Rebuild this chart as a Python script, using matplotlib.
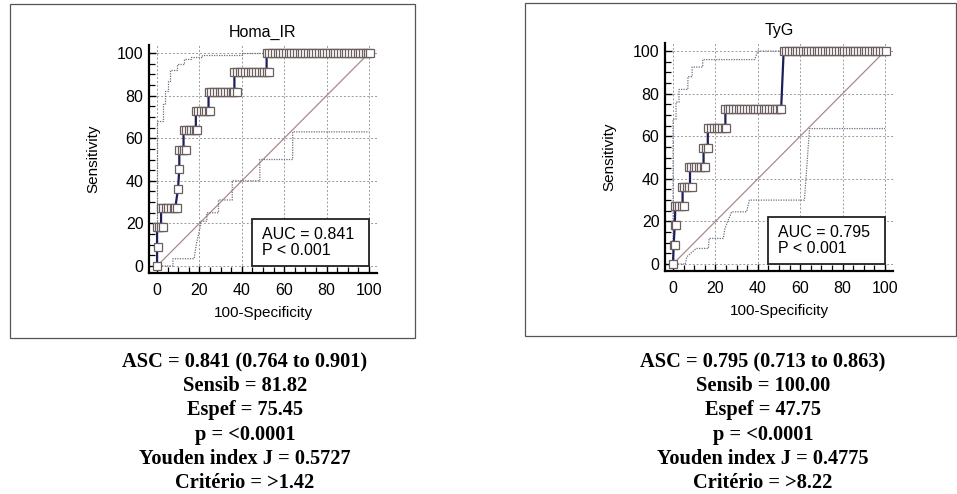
import numpy as np
import matplotlib.pyplot as plt
from matplotlib.patches import Rectangle
from matplotlib.ticker import MultipleLocator

plt.rcParams['font.family'] = ['Liberation Sans', 'DejaVu Sans']

# ---- Homa_IR : ROC points (100-specificity, sensitivity)
homa_fpr = [0, 0.3, 0, 1.0, 1.9, 2.7,
            1.9, 3.0, 4.2, 5.4, 6.6, 7.8, 8.6, 9.4,
            9.9, 10.5,
            10.5, 11.8, 12.5, 13.6,
            12.5, 13.8, 15.0, 16.2, 17.4, 18.3, 19.0,
            18.3, 19.5, 20.8, 22.0, 23.2, 24.3, 25.0,
            24.3, 25.6, 26.9, 28.2, 29.5, 30.8, 32.1, 33.4, 34.7, 36.0, 36.5, 37.6,
            36.5, 37.8, 39.0, 40.3, 41.6, 42.9, 44.2, 45.5, 46.8, 48.1, 49.4, 50.7, 51.7, 53.0,
            51.7, 53.0, 54.3, 55.6, 56.9, 58.2, 59.5, 60.8, 62.1, 63.4, 64.7, 66.0, 67.3,
            68.6, 69.9, 71.2, 72.5, 73.8, 75.1, 76.4, 77.7, 79.0, 80.3, 81.6, 82.9, 84.2,
            85.5, 86.8, 88.1, 89.4, 90.7, 92.0, 93.3, 94.6, 95.9, 97.2, 98.5, 99.4, 100.5]
homa_tpr = [0, 9.09, 18.18, 18.18, 18.18, 18.18,
            27.27, 27.27, 27.27, 27.27, 27.27, 27.27, 27.27, 27.27,
            36.36, 45.45,
            54.55, 54.55, 54.55, 54.55,
            63.64, 63.64, 63.64, 63.64, 63.64, 63.64, 63.64,
            72.73, 72.73, 72.73, 72.73, 72.73, 72.73, 72.73,
            81.82, 81.82, 81.82, 81.82, 81.82, 81.82, 81.82, 81.82, 81.82, 81.82, 81.82, 81.82,
            90.91, 90.91, 90.91, 90.91, 90.91, 90.91, 90.91, 90.91, 90.91, 90.91, 90.91, 90.91, 90.91, 90.91,
            100, 100, 100, 100, 100, 100, 100, 100, 100, 100, 100, 100, 100,
            100, 100, 100, 100, 100, 100, 100, 100, 100, 100, 100, 100, 100,
            100, 100, 100, 100, 100, 100, 100, 100, 100, 100, 100, 100, 100]
# line path through the corners
homa_line_x = [0, 0, 0, 1.9, 1.9, 8.6, 9.9, 10.5, 10.5, 12.5, 12.5, 18.3, 18.3, 24.3, 24.3, 36.5, 36.5, 51.7, 51.7, 100]
homa_line_y = [0, 9.09, 18.18, 18.18, 27.27, 27.27, 36.36, 45.45, 54.55, 54.55, 63.64, 63.64, 72.73, 72.73,
               81.82, 81.82, 90.91, 90.91, 100, 100]
homa_up_x = [0, 0, 3.0, 3.0, 3.8, 3.8, 5.0, 5.0, 6.3, 6.3, 9.5, 9.5, 12.5, 12.5, 16, 16, 21, 21, 40, 40, 100]
homa_up_y = [0, 68, 68, 76, 76, 82, 82, 87, 87, 92, 92, 95, 95, 97, 97, 98, 98, 99, 99, 100, 100]
homa_lo_x = [0, 7.5, 7.5, 17.5, 18.5, 20.5, 20.5, 23.5, 23.5, 29, 29, 35.5, 35.5, 48.5, 48.5, 64, 64, 100]
homa_lo_y = [0, 0, 3.4, 3.4, 10, 19, 21, 21, 25, 25, 31, 31, 40, 40, 50, 50, 63, 63]

# ---- TyG
tyg_fpr = [0, 0.3, 1.0, 0.8, 1.6,
           1.1, 2.0, 3.0, 4.0, 5.0,
           4.0, 5.2, 6.4, 7.6, 9.0,
           7.3, 8.5, 9.7, 10.9, 12.1, 13.3, 14.5, 15.0,
           14.0, 15.5, 16.7,
           16.7, 18.0, 19.3, 20.6, 21.9, 23.2, 24.5, 25.0,
           24.5, 25.8, 27.1, 28.4, 29.7, 31.0, 32.3, 33.6, 34.9, 36.2, 37.5, 38.8, 40.1,
           41.4, 42.7, 44.0, 45.3, 46.6, 47.9, 49.2, 50.5, 51.0,
           52.2, 53.5, 54.8, 56.1, 57.4, 58.7, 60.0, 61.3, 62.6, 63.9, 65.2, 66.5, 67.8,
           69.1, 70.4, 71.7, 73.0, 74.3, 75.6, 76.9, 78.2, 79.5, 80.8, 82.1, 83.4, 84.7,
           86.0, 87.3, 88.6, 89.9, 91.2, 92.5, 93.8, 95.1, 96.4, 97.7, 99.0, 100.3]
tyg_tpr = [0, 9.09, 9.09, 18.18, 18.18,
           27.27, 27.27, 27.27, 27.27, 27.27,
           36.36, 36.36, 36.36, 36.36, 36.36,
           45.45, 45.45, 45.45, 45.45, 45.45, 45.45, 45.45, 45.45,
           54.55, 54.55, 54.55,
           63.64, 63.64, 63.64, 63.64, 63.64, 63.64, 63.64, 63.64,
           72.73, 72.73, 72.73, 72.73, 72.73, 72.73, 72.73, 72.73, 72.73, 72.73, 72.73, 72.73, 72.73,
           72.73, 72.73, 72.73, 72.73, 72.73, 72.73, 72.73, 72.73, 72.73,
           100, 100, 100, 100, 100, 100, 100, 100, 100, 100, 100, 100, 100,
           100, 100, 100, 100, 100, 100, 100, 100, 100, 100, 100, 100, 100,
           100, 100, 100, 100, 100, 100, 100, 100, 100, 100, 100, 100]
tyg_line_x = [0, 0.3, 0.8, 1.1, 4.5, 4.5, 8.0, 8.0, 14.4, 14.4, 16.4, 16.4, 24.7, 24.7, 51.0, 52.2, 100]
tyg_line_y = [0, 9.09, 18.18, 27.27, 27.27, 36.36, 36.36, 45.45, 45.45, 54.55, 54.55, 63.64, 63.64, 72.73,
              72.73, 100, 100]
tyg_up_x = [0, 0, 1.4, 1.4, 2.8, 2.8, 7.0, 7.0, 9.0, 9.0, 14.0, 14.0, 38.5, 40, 100]
tyg_up_y = [0, 68, 68, 76, 76, 82, 82, 88, 88, 92.5, 92.5, 96, 96, 100, 100]
tyg_lo_x = [0, 5.8, 6.5, 11, 11, 16.7, 17, 23.7, 24.5, 26, 27.7, 34.7, 36, 62, 64.4, 100]
tyg_lo_y = [0, 0, 3.4, 7.3, 7.3, 7.3, 12, 12, 16.7, 20.6, 24.5, 24.5, 30, 30, 63.6, 63.6]

titles = ['Homa_IR', 'TyG']
auc_txt = ['AUC = 0.841\nP < 0.001', 'AUC = 0.795\nP < 0.001']
stats = [['ASC = 0.841 (0.764 to 0.901)', 'Sensib = 81.82', 'Espef = 75.45', 'p = <0.0001',
          'Youden index J = 0.5727', 'Critério = >1.42'],
         ['ASC = 0.795 (0.713 to 0.863)', 'Sensib = 100.00', 'Espef = 47.75', 'p = <0.0001',
          'Youden index J = 0.4775', 'Critério = >8.22']]

W, H = 957, 494
fig = plt.figure(figsize=(W / 100, H / 100), dpi=100)

# panel frames (pixel boxes)
for (x0, y0, x1, y1) in [(10, 4, 415, 338), (525, 3, 956, 336)]:
    fig.patches.append(Rectangle((x0 / W, 1 - y1 / H), (x1 - x0) / W, (y1 - y0) / H,
                                 transform=fig.transFigure, fill=False, ec='#555555', lw=0.9))

axes_px = [(149, 45, 377, 273), (665, 43, 893, 271)]
data = [(homa_fpr, homa_tpr, homa_line_x, homa_line_y, homa_up_x, homa_up_y, homa_lo_x, homa_lo_y),
        (tyg_fpr, tyg_tpr, tyg_line_x, tyg_line_y, tyg_up_x, tyg_up_y, tyg_lo_x, tyg_lo_y)]
centers = [245, 763]

for i in range(2):
    x0, y0, x1, y1 = axes_px[i]
    ax = fig.add_axes([x0 / W, 1 - y1 / H, (x1 - x0) / W, (y1 - y0) / H])
    fpr, tpr, lx, ly, ux, uy, dx, dy = data[i]
    ax.set_xlim(-3.8, 103.8)
    ax.set_ylim(-3.3, 103.8)
    ax.xaxis.set_major_locator(MultipleLocator(20))
    ax.yaxis.set_major_locator(MultipleLocator(20))
    ax.xaxis.set_minor_locator(MultipleLocator(5))
    ax.yaxis.set_minor_locator(MultipleLocator(5))
    ax.grid(True, which='major', ls=(0, (2, 2)), color='#9a9a9a', lw=0.7)
    ax.set_axisbelow(True)
    for s in ['top', 'right']:
        ax.spines[s].set_visible(False)
    for s in ['left', 'bottom']:
        ax.spines[s].set_linewidth(1.6)
    ax.tick_params(which='both', direction='in', labelsize=11.5)
    ax.tick_params(axis='x', pad=7)
    ax.tick_params(axis='y', pad=4)
    ax.tick_params(which='major', length=5, width=1)
    ax.tick_params(which='minor', length=4, width=0.9)

    ax.plot([0, 100], [0, 100], color='#a88a8a', lw=0.9)
    ax.plot(ux, uy, color='#6e6e84', lw=0.9, ls=(0, (1, 1)))
    ax.plot(dx, dy, color='#6e6e84', lw=0.9, ls=(0, (1, 1)))
    ax.plot(lx, ly, color='#1c1f5a', lw=1.6, zorder=3)
    ax.plot(fpr, tpr, ls='none', marker='s', ms=6, mfc='white', mec='#6a5e5e', mew=0.9, zorder=4)

    ax.add_patch(Rectangle((45, 0), 55, 22, fc='white', ec='#222222', lw=1.3, zorder=5))
    ax.text(49.5, 11, auc_txt[i], fontsize=11.5, va='center', ha='left', linespacing=1.15, zorder=6)

    ax.set_title(titles[i], fontsize=11.5, pad=6)
    ax.set_xlabel('100-Specificity', fontsize=11, labelpad=6)
    ax.set_ylabel('Sensitivity', fontsize=11, labelpad=12)

    for k, line in enumerate(stats[i]):
        fig.text(centers[i] / W, 1 - (362 + 24.2 * k) / H, line, ha='center', va='center',
                 fontsize=14.7, fontweight='bold', family=['Liberation Serif', 'DejaVu Serif'])

fig.savefig('out.png', dpi=100)
